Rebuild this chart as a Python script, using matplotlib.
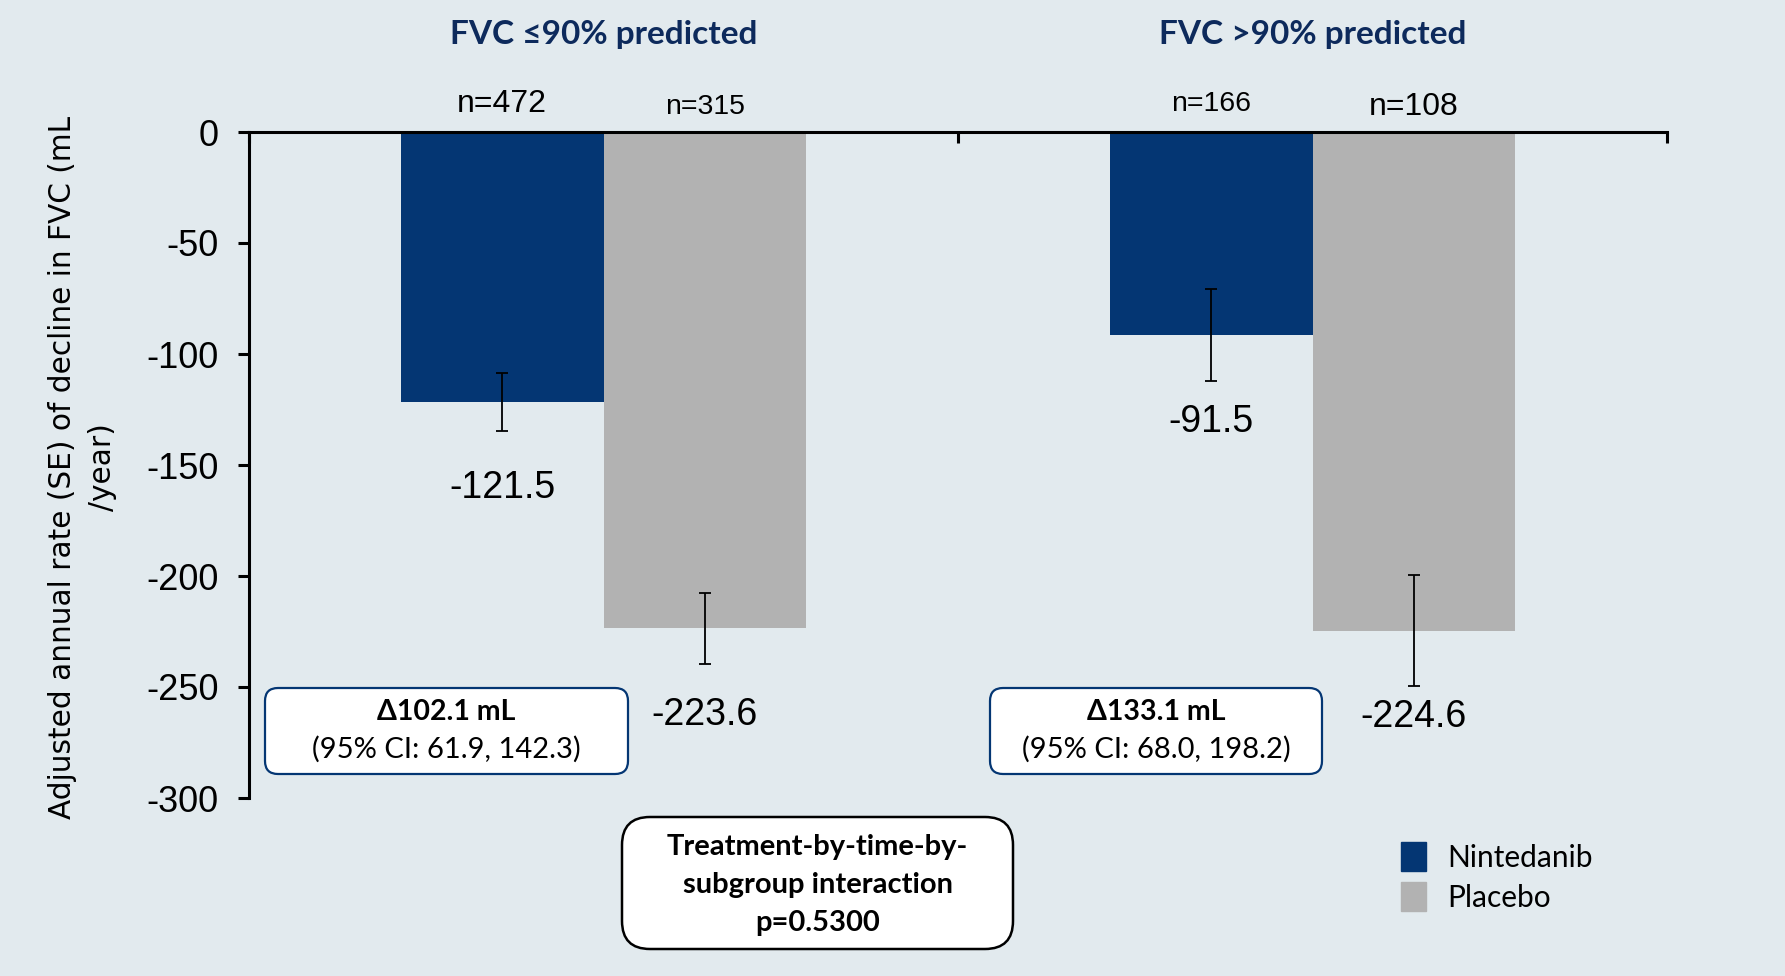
import numpy as np
import matplotlib
matplotlib.use("Agg")
import matplotlib.pyplot as plt
from matplotlib.patches import FancyBboxPatch, Patch

# data
groups = ["FVC \u226490% predicted", "FVC >90% predicted"]
treatments = ["Nintedanib", "Placebo"]
nint_mean = [-121.5, -91.5]
nint_se = [13.0, 20.7]
plac_mean = [-223.6, -224.6]
plac_se = [16.0, 25.0]
nint_n = ["n=472", "n=166"]
plac_n = ["n=315", "n=108"]
delta_txt = ["\u0394102.1 mL", "\u0394133.1 mL"]
ci_txt = ["(95% CI: 61.9, 142.3)", "(95% CI: 68.0, 198.2)"]
yticks = [0, -50, -100, -150, -200, -250, -300]
ytick_labels = ["0", "-50", "-100", "-150", "-200", "-250", "-300"]

bg = "#e2eaee"
navy = "#043673"
grey = "#b2b2b2"
title_col = "#0d2a5c"
calib = ["Lato", "Noto Sans", "DejaVu Sans"]
arial = ["Liberation Sans", "DejaVu Sans"]

fig = plt.figure(figsize=(17.85, 9.76), dpi=100, facecolor=bg)
ax = fig.add_axes([249/1785, 1-798/976, 1418/1785, 666/976])
ax.set_facecolor(bg)

x = np.arange(len(groups))
w = 0.2857
ax.bar(x - w/2, nint_mean, w, color=navy, zorder=2)
ax.bar(x + w/2, plac_mean, w, color=grey, zorder=2)
ax.errorbar(x - w/2, nint_mean, yerr=nint_se, fmt="none", ecolor="black",
            elinewidth=1.3, capsize=4.5, capthick=1.3, zorder=3)
ax.errorbar(x + w/2, plac_mean, yerr=plac_se, fmt="none", ecolor="black",
            elinewidth=1.3, capsize=4.5, capthick=1.3, zorder=3)

ax.set_xlim(-0.5, 1.5)
ax.set_ylim(-300, 0)
ax.set_yticks(yticks)
ax.set_yticklabels(ytick_labels, fontsize=26, family=arial)
ax.xaxis.tick_top()
ax.set_xticks([-0.5, 0.5, 1.5])
ax.set_xticklabels([])
ax.tick_params(axis="x", direction="in", length=8, width=2.2)
ax.tick_params(axis="y", direction="out", length=8, width=2.2, pad=14)
for s in ["bottom", "right"]:
    ax.spines[s].set_visible(False)
for s in ["left", "top"]:
    ax.spines[s].set_linewidth(2.2)
ax.spines["top"].set_zorder(4)

# value labels, a fixed distance below each bar end
for i in range(len(groups)):
    ax.text(x[i] - w/2, nint_mean[i] - 39, "%.1f" % nint_mean[i],
            ha="center", va="center", fontsize=27, family=arial)
    ax.text(x[i] + w/2, plac_mean[i] - 39, "%.1f" % plac_mean[i],
            ha="center", va="center", fontsize=27, family=arial)

# n labels and group titles above the axis
n_sizes = [[23, 20.5], [20.5, 23]]
n_off = [[20, 18], [20, 18]]
for i in range(len(groups)):
    ax.annotate(nint_n[i], (x[i] - w/2, 0), xytext=(0, n_off[i][0]), textcoords="offset points",
                ha="center", va="center", fontsize=n_sizes[i][0], family=arial)
    ax.annotate(plac_n[i], (x[i] + w/2, 0), xytext=(0, n_off[i][1]), textcoords="offset points",
                ha="center", va="center", fontsize=n_sizes[i][1], family=arial)
    ax.annotate(groups[i], (x[i], 0), xytext=(0, 70), textcoords="offset points",
                ha="center", va="center", fontsize=24, fontweight="bold",
                color=title_col, family=calib)

# y label
fig.text(0.825, 5.09, "Adjusted annual rate (SE) of decline in FVC (mL\n/year)",
         rotation=90, ha="center", va="center", multialignment="center",
         fontsize=21.3, family=["DejaVu Sans"], linespacing=1.45,
         transform=fig.dpi_scale_trans)

# delta boxes (inches from bottom-left)
tr = fig.dpi_scale_trans
boxes = [(2.65, 2.02, 3.63, 0.86), (9.90, 2.02, 3.32, 0.86)]
for (bx, by, bw, bh), d, c in zip(boxes, delta_txt, ci_txt):
    fig.patches.append(FancyBboxPatch((bx, by), bw, bh,
                       boxstyle="round,pad=0,rounding_size=0.13",
                       fc="white", ec=navy, lw=1.6, transform=tr))
    fig.text(bx + bw/2, by + bh*0.72, d, ha="center", va="center",
             fontsize=20.5, fontweight="bold", family=calib, transform=tr)
    fig.text(bx + bw/2, by + bh*0.29, c, ha="center", va="center",
             fontsize=21, family=calib, transform=tr)

# interaction box
fig.patches.append(FancyBboxPatch((6.22, 0.27), 3.91, 1.32,
                   boxstyle="round,pad=0,rounding_size=0.28",
                   fc="white", ec="black", lw=1.8, transform=tr))
fig.text(8.175, 0.91, "Treatment-by-time-by-\nsubgroup interaction\np=0.5300",
         ha="center", va="center", fontsize=21, fontweight="bold",
         family=calib, linespacing=1.55, transform=tr)

handles = [Patch(color=navy), Patch(color=grey)]
fig.legend(handles, treatments, loc="upper left",
           bbox_to_anchor=(1401/1785, 1-842/976), frameon=False,
           borderpad=0, borderaxespad=0, handlelength=0.84, handleheight=1.12,
           handletextpad=0.7, labelspacing=0.35,
           prop={"family": calib, "size": 21.5})

fig.savefig("out.png", dpi=100, facecolor=bg)
